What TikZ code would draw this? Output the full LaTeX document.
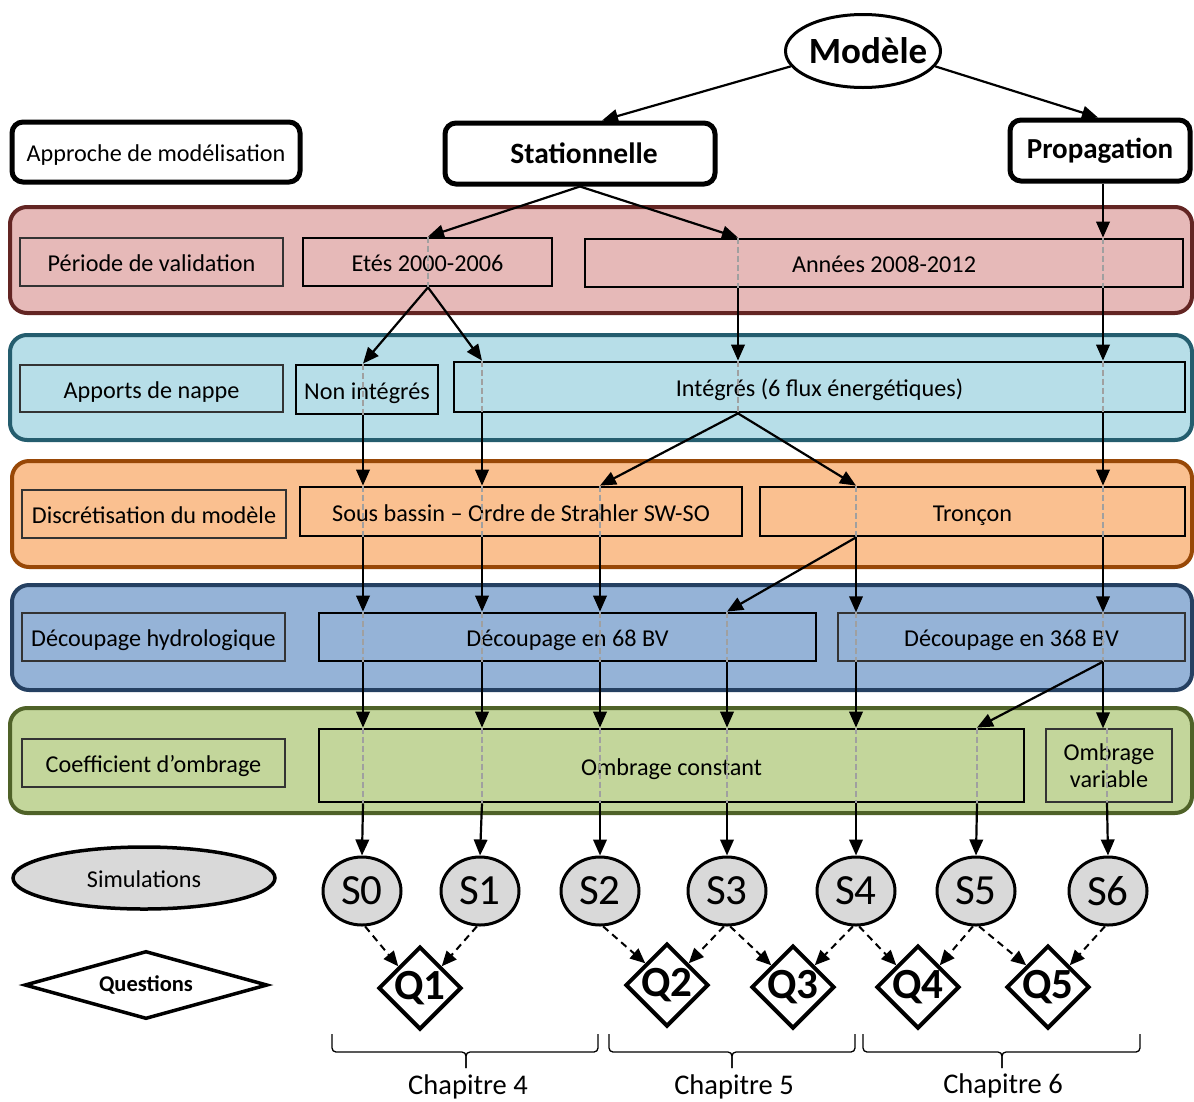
\documentclass[tikz,border=0pt]{standalone}
\usepackage{fontspec}
\setmainfont{Carlito}
\usetikzlibrary{shapes.geometric,arrows.meta,calc}
\definecolor{rfill}{HTML}{E6B9B8}\definecolor{rline}{HTML}{632523}
\definecolor{bfill}{HTML}{B7DEE8}\definecolor{bline}{HTML}{245D6E}
\definecolor{ofill}{HTML}{FAC090}\definecolor{oline}{HTML}{984807}
\definecolor{dfill}{HTML}{95B3D7}\definecolor{dline}{HTML}{254061}
\definecolor{gfill}{HTML}{C3D69B}\definecolor{gline}{HTML}{4F6228}
\definecolor{simgray}{HTML}{D9D9D9}
\definecolor{dashgray}{HTML}{A0A0A0}
\newcommand\bx[7]{\node[#6, minimum width={(#4)-(#2)}, minimum height={(#5)-(#3)}] (#1) at ({((#2)+(#4))/2},{((#3)+(#5))/2}) {#7};}
\tikzset{
  x=1pt, y=-1pt,
  txt/.style={font=\fontsize{24.2}{28}\selectfont, text height=21pt, text depth=2pt},
  band/.style={draw, line width=4pt, rounded corners=17pt, inner sep=0pt},
  lbl/.style={draw=black!80, line width=1.2pt, txt, inner sep=0pt},
  thick box/.style={draw, line width=2.8pt, txt, inner sep=0pt},
  thin box/.style={draw=black!80, line width=1.4pt, txt, inner sep=0pt},
  top box/.style={draw, line width=5pt, rounded corners=11pt, inner sep=0pt, fill=white},
  arr/.style={line width=2.2pt, -{Triangle[length=16pt,width=13.5pt]}},
  darr/.style={line width=2pt, dash pattern=on 7pt off 5pt, -{Triangle[length=15pt,width=13pt]}},
  gd/.style={draw=dashgray, line width=1.5pt, dash pattern=on 6pt off 3pt},
  sim/.style={ellipse, draw, fill=simgray, line width=3pt, minimum width=78pt, minimum height=68pt, inner sep=0pt, font=\fontsize{43}{45}\selectfont},
  qd/.style={diamond, draw, fill=white, line width=4pt, minimum width=83pt, minimum height=83pt, inner sep=0pt},
  qt/.style={font=\fontsize{43}{45}\selectfont\bfseries, inner sep=0pt},
  brk/.style={line width=1.3pt, rounded corners=4pt},
  chap/.style={font=\fontsize{28.5}{32}\selectfont, inner sep=1pt},
}
\begin{document}
\begin{tikzpicture}
\useasboundingbox (0,0) rectangle (1194,1101);
% column coordinates
\coordinate (cA) at (428,0);
\coordinate (cB) at (738,0);
\coordinate (cC) at (1103,0);
\coordinate (cS) at (602,0);
\coordinate (cP) at (1098,0);
\coordinate (k0) at (363,0);
\coordinate (k1) at (482,0);
\coordinate (k2) at (600,0);
\coordinate (k3) at (727,0);
\coordinate (k4) at (856,0);
\coordinate (k5) at (977,0);
\coordinate (k6) at (1107,0);
% bands
\bx{band1}{10}{207}{1192}{313}{band, draw=rline, fill=rfill}{}
\bx{band2}{10}{335}{1192}{440}{band, draw=bline, fill=bfill}{}
\bx{band3}{12}{461}{1192}{567}{band, draw=oline, fill=ofill}{}
\bx{band4}{12}{585}{1192}{690}{band, draw=dline, fill=dfill}{}
\bx{band5}{10}{708}{1192}{813}{band, draw=gline, fill=gfill}{}
% top
\node[ellipse, draw, fill=white, line width=3pt, minimum width=155pt, minimum height=73pt, inner sep=0pt,
      label={[font=\fontsize{37}{40}\selectfont\bfseries, xshift=5pt]center:Modèle}] (mod) at (863,51) {};
\bx{appr}{12}{122}{300}{182}{top box, txt}{Approche de modélisation}
\bx{stat}{445}{123}{715}{184}{top box, font=\fontsize{29.5}{32}\selectfont\bfseries}{\hspace*{8pt}Stationnelle}
\bx{prop}{1010}{120}{1190}{181}{top box, font=\fontsize{29}{32}\selectfont\bfseries}{Propagation}
% row 1
\bx{per}{20}{238}{283}{286}{lbl, fill=rfill}{Période de validation}
\bx{ete}{303}{238}{552}{286}{thick box, fill=rfill}{Etés 2000-2006}
\bx{ann}{585}{239}{1183}{287}{thick box, fill=rfill}{Années 2008-2012}
% row 2
\bx{app}{20}{365}{283}{412}{lbl, fill=bfill}{Apports de nappe}
\bx{non}{296}{365}{438}{414}{thick box, fill=bfill}{Non intégrés}
\bx{int}{454}{362}{1185}{412}{thick box, fill=bfill}{Intégrés (6 flux énergétiques)}
% row 3
\bx{dis}{22}{490}{286}{538}{lbl, fill=ofill}{Discrétisation du modèle}
\bx{sou}{300}{487}{742}{536}{thick box, fill=ofill}{Sous bassin – Ordre de Strahler SW-SO}
\bx{tro}{760}{487}{1185}{536}{thick box, fill=ofill}{Tronçon}
% row 4
\bx{dec}{22}{613}{285}{661}{lbl, fill=dfill}{Découpage hydrologique}
\bx{d68}{319}{613}{816}{661}{thick box, fill=dfill}{Découpage en 68 BV}
\bx{d368}{838}{613}{1185}{661}{thin box, fill=dfill}{Découpage en 368 BV}
% row 5
\bx{coe}{22}{739}{285}{787}{lbl, fill=gfill}{Coefficient d’ombrage}
\bx{omc}{319}{729}{1024}{802}{thick box, fill=gfill}{Ombrage constant}
\bx{omv}{1046}{729}{1172}{802}{thin box, fill=gfill, align=center, text height=, text depth=}{Ombrage\\[-1pt]variable}
% legend
\node[ellipse, draw, fill=simgray, line width=3.5pt, minimum width=262pt, minimum height=62pt, inner sep=0pt, txt] (leg1) at (144,878) {Simulations};
\node[diamond, draw, fill=white, line width=3.5pt, minimum width=243pt, minimum height=68pt, inner sep=0pt, aspect=3.57, font=\fontsize{22.5}{24}\selectfont\bfseries] (leg2) at (146,985) {Questions};
% simulations
\node[sim] (s0) at (362,891) {S0};
\node[sim] (s1) at (480,891) {S1};
\node[sim] (s2) at (600,891) {S2};
\node[sim] (s3) at (727,891) {S3};
\node[sim] (s4) at (856,891) {S4};
\node[sim] (s5) at (976,891) {S5};
\node[sim] (s6) at (1108,891) {S6};
% questions
\node[qd, label={[qt]center:Q1}] (q1) at (420,988) {};
\node[qd, label={[qt]center:Q2}] (q2) at (667,985) {};
\node[qd, label={[qt]center:Q3}] (q3) at (793,987) {};
\node[qd, label={[qt]center:Q4}] (q4) at (918,987) {};
\node[qd, label={[qt]center:Q5}] (q5) at (1048,987) {};
% gray dashed guides inside boxes
\foreach \b/\c in {ete/cA, ann/cB, ann/cC, non/k0, int/k1, int/cB, int/cC, sou/k0, sou/k1, sou/k2, tro/k4, tro/cC,
  d68/k0, d68/k1, d68/k2, d68/k3, d368/k4, d368/cC, omc/k0, omc/k1, omc/k2, omc/k3, omc/k4, omc/k5, omv/k6}
  {\draw[gd] (\b.north -| \c) -- (\b.south -| \c);}
% arrows
\draw[arr] (mod.192) -- (stat.north -| cS);
\draw[arr] (mod.-12) -- (prop.north -| cP);
\draw[arr] (stat.south) -- (ete.north -| cA);
\draw[arr] (stat.south) -- (ann.north -| cB);
\draw[arr] (prop.south -| cC) -- (ann.north -| cC);
\draw[arr] (ete.south -| cA) -- (non.north -| k0);
\draw[arr] (ete.south -| cA) -- (int.north -| k1);
\draw[arr] (ann.south -| cB) -- (int.north -| cB);
\draw[arr] (ann.south -| cC) -- (int.north -| cC);
\draw[arr] (non.south -| k0) -- (sou.north -| k0);
\draw[arr] (int.south -| k1) -- (sou.north -| k1);
\draw[arr] (int.south -| cB) -- (sou.north -| k2);
\draw[arr] (int.south -| cB) -- (tro.north -| k4);
\draw[arr] (int.south -| cC) -- (tro.north -| cC);
\draw[arr] (sou.south -| k0) -- (d68.north -| k0);
\draw[arr] (sou.south -| k1) -- (d68.north -| k1);
\draw[arr] (sou.south -| k2) -- (d68.north -| k2);
\draw[arr] (tro.south -| k4) -- (d68.north -| k3);
\draw[arr] (tro.south -| k4) -- (d368.north -| k4);
\draw[arr] (tro.south -| cC) -- (d368.north -| cC);
\draw[arr] (d68.south -| k0) -- (omc.north -| k0);
\draw[arr] (d68.south -| k1) -- (omc.north -| k1);
\draw[arr] (d68.south -| k2) -- (omc.north -| k2);
\draw[arr] (d68.south -| k3) -- (omc.north -| k3);
\draw[arr] (d368.south -| k4) -- (omc.north -| k4);
\draw[arr] (d368.south -| cC) -- (omc.north -| k5);
\draw[arr] (d368.south -| cC) -- (omv.north -| cC);
\draw[arr] (omc.south -| k0) -- (s0.north);
\draw[arr] (omc.south -| k1) -- (s1.north);
\draw[arr] (omc.south -| k2) -- (s2.north);
\draw[arr] (omc.south -| k3) -- (s3.north);
\draw[arr] (omc.south -| k4) -- (s4.north);
\draw[arr] (omc.south -| k5) -- (s5.north);
\draw[arr] (omv.south -| k6) -- (s6.north);
% simulation -> question
\draw[darr] (s0.-85) -- (q1.north west);
\draw[darr] (s1.-95) -- (q1.north east);
\draw[darr] (s2.-85) -- (q2.north west);
\draw[darr] (s3.-95) -- (q2.north east);
\draw[darr] (s3.-85) -- (q3.north west);
\draw[darr] (s4.-95) -- (q3.north east);
\draw[darr] (s4.-85) -- (q4.north west);
\draw[darr] (s5.-95) -- (q4.north east);
\draw[darr] (s5.-85) -- (q5.north west);
\draw[darr] (s6.-95) -- (q5.north east);
% chapter brackets
\coordinate (b4a) at (332,1034); \coordinate (b4b) at (598,1034); \coordinate (b4m) at (466,1068);
\coordinate (b5a) at (609,1034); \coordinate (b5b) at (855,1034); \coordinate (b5m) at (732,1068);
\coordinate (b6a) at (863,1034); \coordinate (b6b) at (1140,1034); \coordinate (b6m) at (1002,1068);
\foreach \p in {4,5,6}{
  \draw[brk] (b\p a) -- ++(0,18) -| (b\p m);
  \draw[brk] (b\p b) -- ++(0,18) -| (b\p m);
}
\node[chap] (ch4) at (468,1087) {Chapitre 4};
\node[chap] (ch5) at (734,1087) {Chapitre 5};
\node[chap] (ch6) at (1003,1086) {Chapitre 6};
\end{tikzpicture}
\end{document}
